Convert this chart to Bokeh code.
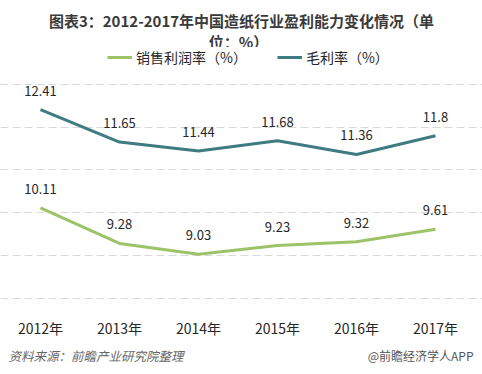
from bokeh.plotting import figure
from bokeh.layouts import column
from bokeh.models import Range1d, FixedTicker, Label, Legend, LegendItem, ColumnDataSource
from bokeh.core.properties import value
from bokeh.embed import file_html
from bokeh.resources import INLINE

years = ["2012年", "2013年", "2014年", "2015年", "2016年", "2017年"]
gross_margin = [12.41, 11.65, 11.44, 11.68, 11.36, 11.8]
sales_profit = [10.11, 9.28, 9.03, 9.23, 9.32, 9.61]
gross_labels = ["12.41", "11.65", "11.44", "11.68", "11.36", "11.8"]
sales_labels = ["10.11", "9.28", "9.03", "9.23", "9.32", "9.61"]
y_ticks = [8, 9, 10, 11, 12, 13]

FONT = "Noto Sans CJK SC"
TEAL = "#3E7B83"
GREEN = "#9DC368"

idx = list(range(len(years)))

p = figure(width=482, height=340, output_backend="svg", toolbar_location=None,
           x_range=Range1d(-0.506, 5.595), y_range=Range1d(7.97, 14.96),
           min_border_left=0, min_border_right=0, min_border_top=0, min_border_bottom=38)
p.outline_line_color = None
p.background_fill_color = "white"
p.yaxis.visible = False
p.xgrid.visible = False
p.ygrid.ticker = FixedTicker(ticks=y_ticks)
p.ygrid.grid_line_color = "#d9d9d9"
p.ygrid.grid_line_dash = "8 4"
p.ygrid.grid_line_width = 1

p.xaxis.ticker = FixedTicker(ticks=idx)
p.xaxis.major_label_overrides = {i: y for i, y in enumerate(years)}
p.xaxis.axis_line_color = None
p.xaxis.major_tick_line_color = None
p.xaxis.minor_tick_line_color = None
p.xaxis.major_label_standoff = 12
p.xaxis.major_label_text_font = FONT
p.xaxis.major_label_text_font_size = "14px"
p.xaxis.major_label_text_color = "#262626"

src_g = ColumnDataSource(dict(x=idx, y=gross_margin, t=gross_labels))
src_s = ColumnDataSource(dict(x=idx, y=sales_profit, t=sales_labels))

r_s = p.line("x", "y", source=src_s, line_color=GREEN, line_width=3)
r_g = p.line("x", "y", source=src_g, line_color=TEAL, line_width=3)

for src in (src_g, src_s):
    p.text("x", "y", text="t", source=src, y_offset=-19, text_align="center",
           text_baseline="middle", text_font=value(FONT), text_font_size="13px",
           text_color="#262626")

title1 = Label(x=241, y=279, x_units="screen", y_units="screen",
               text="图表3：2012-2017年中国造纸行业盈利能力变化情况（单",
               text_font=FONT, text_font_size="15px", text_font_style="bold",
               text_color="#3a3a3a", text_align="center", text_baseline="middle")
title2 = Label(x=238, y=258, x_units="screen", y_units="screen",
               text="位：%）", text_font=FONT, text_font_size="15px", text_font_style="bold",
               text_color="#3a3a3a", text_align="center", text_baseline="middle")
p.add_layout(title1)
p.add_layout(title2)

legend = Legend(items=[LegendItem(label="销售利润率（%）", renderers=[r_s]),
                       LegendItem(label="毛利率（%）", renderers=[r_g])],
                location=(107, 232), orientation="horizontal",
                glyph_width=25, glyph_height=16, label_standoff=4, spacing=30,
                padding=3, margin=0, border_line_color=None,
                background_fill_color="white", background_fill_alpha=1,
                label_text_font=FONT, label_text_font_size="14px",
                label_text_color="#262626")
p.add_layout(legend, "center")

f = figure(width=482, height=34, output_backend="svg", toolbar_location=None,
           x_range=Range1d(0, 482), y_range=Range1d(0, 34),
           min_border_left=0, min_border_right=0, min_border_top=0, min_border_bottom=0)
f.outline_line_color = None
f.xaxis.visible = False
f.yaxis.visible = False
f.grid.visible = False

foot1 = Label(x=8, y=19, text="资料来源：前瞻产业研究院整理", text_font=FONT,
              text_font_size="12.5px", text_font_style="italic", text_color="#666666",
              text_align="left", text_baseline="middle")
foot2 = Label(x=473, y=19, text="@前瞻经济学人APP", text_font=FONT, text_font_size="12px",
              text_color="#555555", text_align="right", text_baseline="middle")
f.add_layout(foot1)
f.add_layout(foot2)

layout = column(p, f, spacing=0)
open("out.html", "w").write(file_html(layout, INLINE))
